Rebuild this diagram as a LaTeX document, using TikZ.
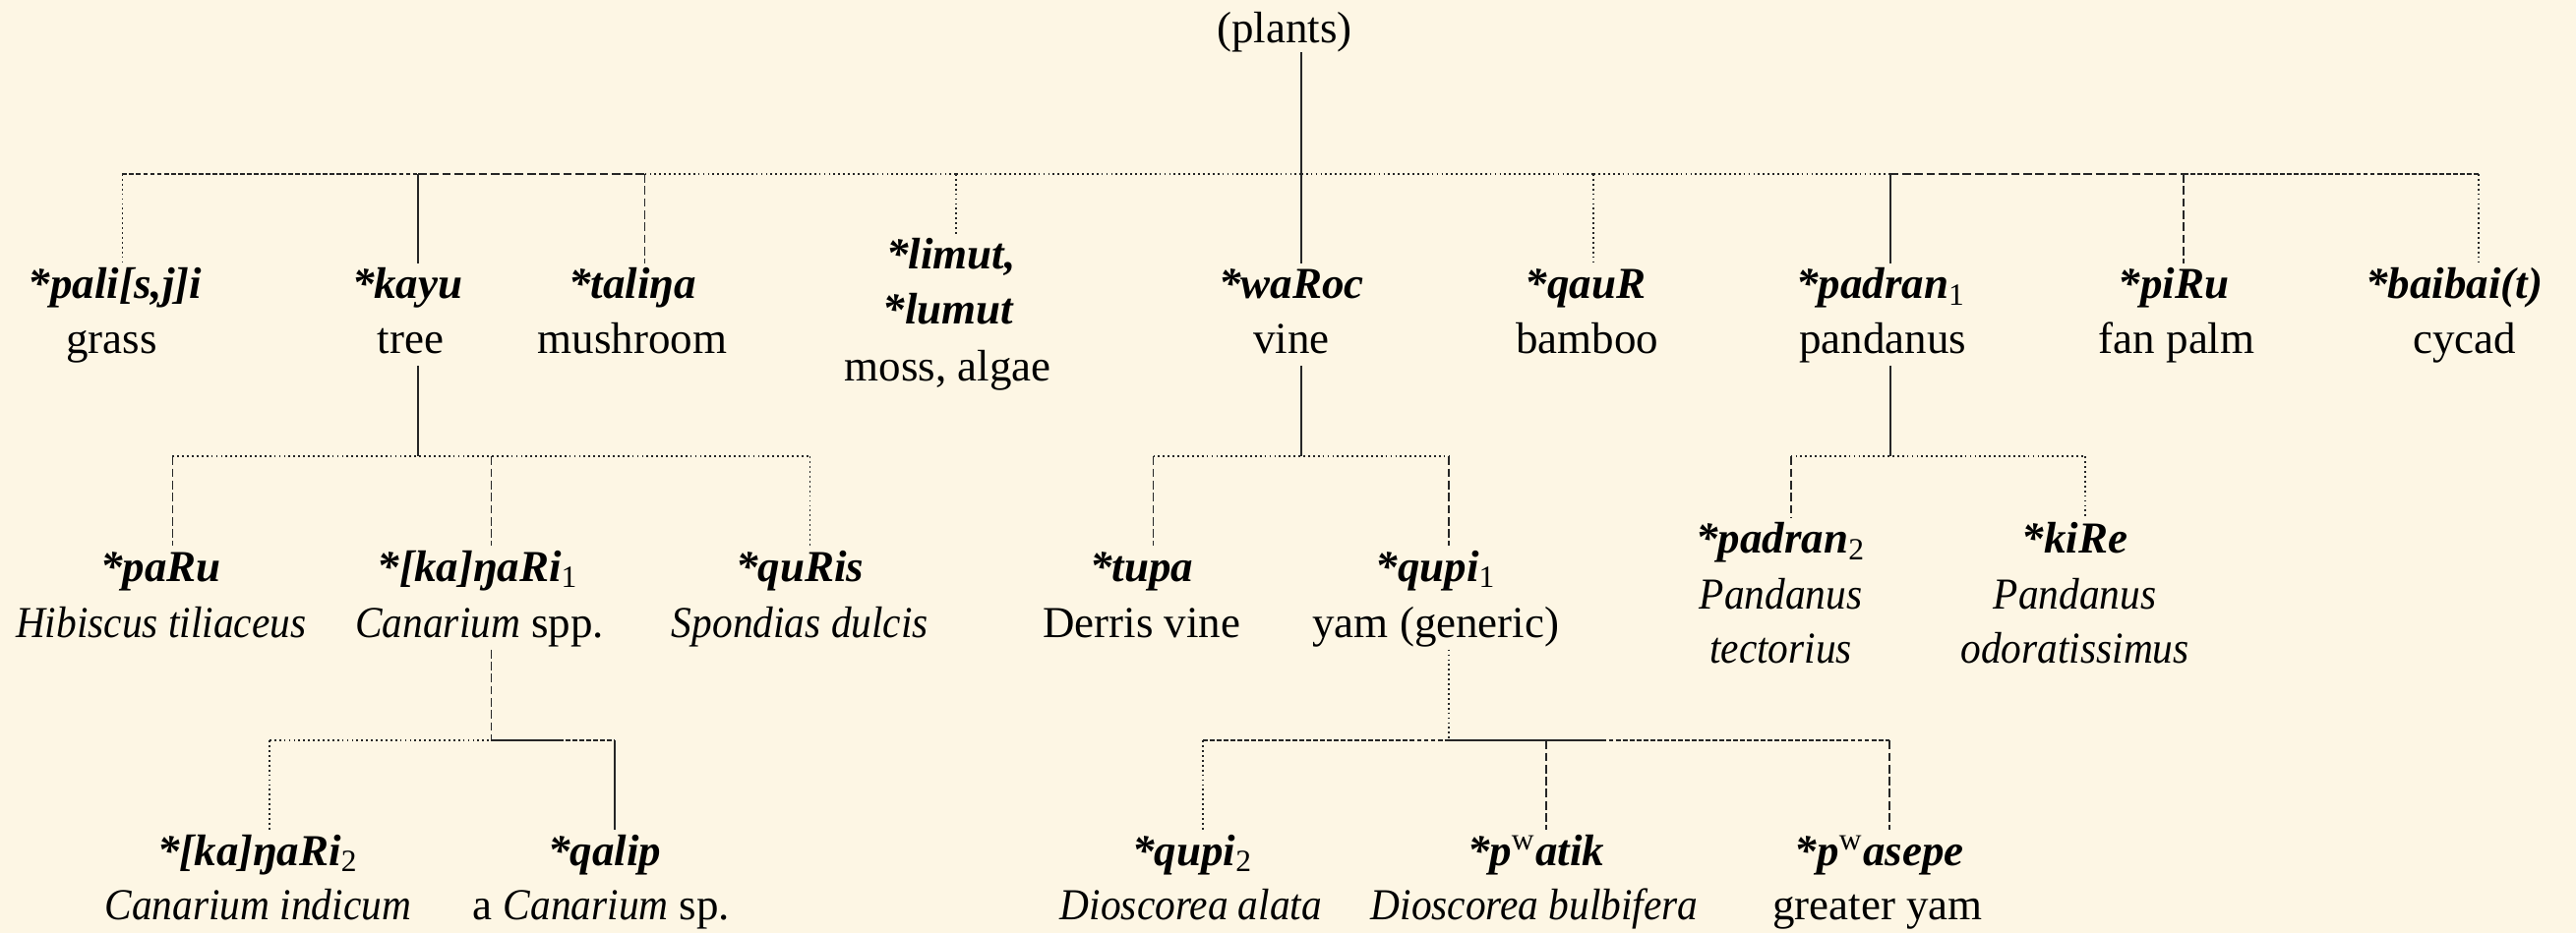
\documentclass[tikz,border=0pt]{standalone}
\usepackage{fontspec}
\setmainfont{LiberationSerif}[Extension=.ttf,UprightFont=*-Regular,BoldFont=*-Bold,ItalicFont=*-Italic,BoldItalicFont=*-BoldItalic,ItalicFeatures={FakeStretch=0.92}]
\definecolor{bg}{RGB}{253,246,228}
\newcommand{\sbs}[1]{\textsubscript{\mdseries\upshape #1}}
\newcommand{\spw}{\textsuperscript{\mdseries\upshape w}}
\begin{document}
\begin{tikzpicture}[x=0.016703cm,y=-0.016703cm,
  ln/.style={line width=0.5pt,draw=black!85},
  sol/.style={ln},
  dsh/.style={ln,dash pattern=on 2.5pt off 1pt},
  fdsh/.style={ln,dash pattern=on 1.4pt off 0.6pt},
  dtt/.style={ln,dash pattern=on 0.5pt off 0.9pt},
  hd/.style={font=\fontsize{12.8}{15}\selectfont\bfseries\itshape,inner sep=0pt,text height=9pt,text depth=3pt,outer sep=1.3pt,anchor=base},
  gl/.style={font=\fontsize{12.8}{15}\selectfont,inner sep=0pt,text height=9pt,text depth=3.6pt,outer sep=0pt,anchor=base},
  gi/.style={gl,font=\fontsize{12.8}{15}\selectfont\itshape}]
\fill[bg] (0,0) rectangle (1568,568);
\useasboundingbox (0,0) rectangle (1568,568);

% ---------- nodes ----------
\node[gl,text depth=2.85pt] (plants) at (782,26) {(plants)};

\node[hd] (pali)   at (70,182)   {*pali[s,j]i};
\node[gl] (pali-g) at (68,215)   {grass};
\node[hd] (kayu)   at (248,182)  {*kayu};
\node[gl] (kayu-g) at (250,215)  {tree};
\node[hd] (tali)   at (385,182)  {*taliŋa};
\node[gl] (tali-g) at (385,215)  {mushroom};
\node[hd] (limut)  at (579,164)  {*limut,};
\node[hd] (lumut)  at (577,197)  {*lumut};
\node[gl] (limut-g) at (577,232) {moss, algae};
\node[hd] (waroc)  at (786,182)  {*waRoc};
\node[gl] (waroc-g) at (786,215) {vine};
\node[hd] (qaur)   at (965,182)  {*qauR};
\node[gl] (qaur-g) at (966,215)  {bamboo};
\node[hd] (padran) at (1145,182) {*padran\sbs{1}};
\node[gl] (padran-g) at (1146,215) {pandanus};
\node[hd] (piru)   at (1323,182) {*piRu};
\node[gl] (piru-g) at (1325,215) {fan palm};
\node[hd] (baibai) at (1494,182) {*baibai(t)};
\node[gl] (baibai-g) at (1500,215) {cycad};

\node[hd] (paru)   at (98,354)  {*paRu};
\node[gi] (paru-g) at (98,388)  {Hibiscus tiliaceus};
\node[hd] (kanari1) at (291,354) {*[ka]ŋaRi\sbs{1}};
\node[gl] (kanari1-g) at (292,388) {\textit{Canarium} spp.};
\node[hd] (quris)  at (487,354) {*quRis};
\node[gi] (quris-g) at (487,388) {Spondias dulcis};

\node[hd] (kanari2) at (157,527) {*[ka]ŋaRi\sbs{2}};
\node[gi] (kanari2-g) at (157,560) {Canarium indicum};
\node[hd] (qalip)  at (368,527) {*qalip};
\node[gl] (qalip-g) at (366,560) {a \textit{Canarium} sp.};

\node[hd] (tupa)   at (695,354) {*tupa};
\node[gl] (tupa-g) at (695,388) {Derris vine};
\node[hd] (qupi1)  at (874,354) {*qupi\sbs{1}};
\node[gl] (qupi1-g) at (874,388) {yam (generic)};

\node[hd] (qupi2)  at (726,527) {*qupi\sbs{2}};
\node[gi] (qupi2-g) at (725,560) {Dioscorea alata};
\node[hd] (pwatik) at (935,527) {*p\spw atik};
\node[gi] (pwatik-g) at (934,560) {Dioscorea bulbifera};
\node[hd] (pwasepe) at (1144,527) {*p\spw asepe};
\node[gl] (pwasepe-g) at (1143,560) {greater yam};

\node[hd] (padran2) at (1084,337) {*padran\sbs{2}};
\node[gi] (padran2-g) at (1084,371) {Pandanus};
\node[gi] (padran2-h) at (1084,404) {tectorius};
\node[hd] (kire)   at (1263,337) {*kiRe};
\node[gi] (kire-g) at (1263,371) {Pandanus};
\node[gi] (kire-h) at (1263,404) {odoratissimus};

% ---------- junctions ----------
\coordinate (j-pali)   at (74.5,106);
\coordinate (j-kayu)   at (254.5,106);
\coordinate (j-tali)   at (392.5,106);
\coordinate (j-limut)  at (582,106);
\coordinate (j-waroc)  at (792,106);
\coordinate (j-qaur)   at (970,106);
\coordinate (j-padran) at (1150.5,106);
\coordinate (j-piru)   at (1329,106);
\coordinate (j-baibai) at (1508.5,106);

\coordinate (k-top)    at (254.5,278);
\coordinate (k-paru)   at (105,278);
\coordinate (k-kanari) at (299,278);
\coordinate (k-quris)  at (493,278);

\coordinate (c-top)    at (299,451);
\coordinate (c-kanari2) at (164,451);
\coordinate (c-mid)    at (340,451);
\coordinate (c-qalip)  at (374,451);

\coordinate (w-top)    at (792,278);
\coordinate (w-tupa)   at (702,278);
\coordinate (w-qupi)   at (882,278);

\coordinate (q-top)    at (882,451);
\coordinate (q-qupi2)  at (732,451);
\coordinate (q-pwatik) at (941,451);
\coordinate (q-mid)    at (975,451);
\coordinate (q-pwasepe) at (1150,451);

\coordinate (p-top)    at (1150.5,278);
\coordinate (p-padran2) at (1090,278);
\coordinate (p-kire)   at (1269,278);

% ---------- top level ----------
\draw[sol] (plants.south -| j-waroc) -- (j-waroc);
\draw[fdsh] (j-pali) -- (j-kayu);
\draw[dsh] (j-kayu) -- (j-tali);
\draw[dtt] (j-tali) -- (j-limut);
\draw[dtt] (j-limut) -- (j-waroc);
\draw[dtt] (j-waroc) -- (j-qaur);
\draw[dtt] (j-qaur) -- (j-padran);
\draw[dsh] (j-padran) -- (j-piru);
\draw[fdsh] (j-piru) -- (j-baibai);
\draw[dtt] (j-pali) -- (j-pali |- pali.north);
\draw[sol] (j-kayu) -- (j-kayu |- kayu.north);
\draw[dsh] (j-tali) -- (j-tali |- tali.north);
\draw[dtt] (j-limut) -- (j-limut |- limut.north);
\draw[sol] (j-waroc) -- (j-waroc |- waroc.north);
\draw[dtt] (j-qaur) -- (j-qaur |- qaur.north);
\draw[sol] (j-padran) -- (j-padran |- padran.north);
\draw[dsh] (j-piru) -- (j-piru |- piru.north);
\draw[dtt] (j-baibai) -- (j-baibai |- baibai.north);

% ---------- kayu ----------
\draw[sol] (k-top |- kayu-g.south) -- (k-top);
\draw[dtt] (k-paru) -- (k-quris);
\draw[dsh] (k-paru) -- (k-paru |- paru.north);
\draw[dsh] (k-kanari) -- (k-kanari |- kanari1.north);
\draw[dtt] (k-quris) -- (k-quris |- quris.north);

% ---------- [ka]ngaRi1 ----------
\draw[dsh] (c-top |- kanari1-g.south) -- (c-top);
\draw[dtt] (c-kanari2) -- (c-top);
\draw[sol] (c-top) -- (c-mid);
\draw[fdsh] (c-mid) -- (c-qalip);
\draw[dtt] (c-kanari2) -- (c-kanari2 |- kanari2.north);
\draw[sol] (c-qalip) -- (c-qalip |- qalip.north);

% ---------- waRoc ----------
\draw[sol] (w-top |- waroc-g.south) -- (w-top);
\draw[dtt] (w-tupa) -- (w-qupi);
\draw[dsh] (w-tupa) -- (w-tupa |- tupa.north);
\draw[dsh] (w-qupi) -- (w-qupi |- qupi1.north);

% ---------- qupi1 ----------
\draw[dtt] (q-top |- qupi1-g.south) -- (q-top);
\draw[fdsh] (q-qupi2) -- (q-top);
\draw[sol] (q-top) -- (q-mid);
\draw[fdsh] (q-mid) -- (q-pwasepe);
\draw[dtt] (q-qupi2) -- (q-qupi2 |- qupi2.north);
\draw[dsh] (q-pwatik) -- (q-pwatik |- pwatik.north);
\draw[dsh] (q-pwasepe) -- (q-pwasepe |- pwasepe.north);

% ---------- padran ----------
\draw[sol] (p-top |- padran-g.south) -- (p-top);
\draw[dtt] (p-padran2) -- (p-kire);
\draw[dsh] (p-padran2) -- (p-padran2 |- padran2.north);
\draw[dtt] (p-kire) -- (p-kire |- kire.north);
\end{tikzpicture}
\end{document}
